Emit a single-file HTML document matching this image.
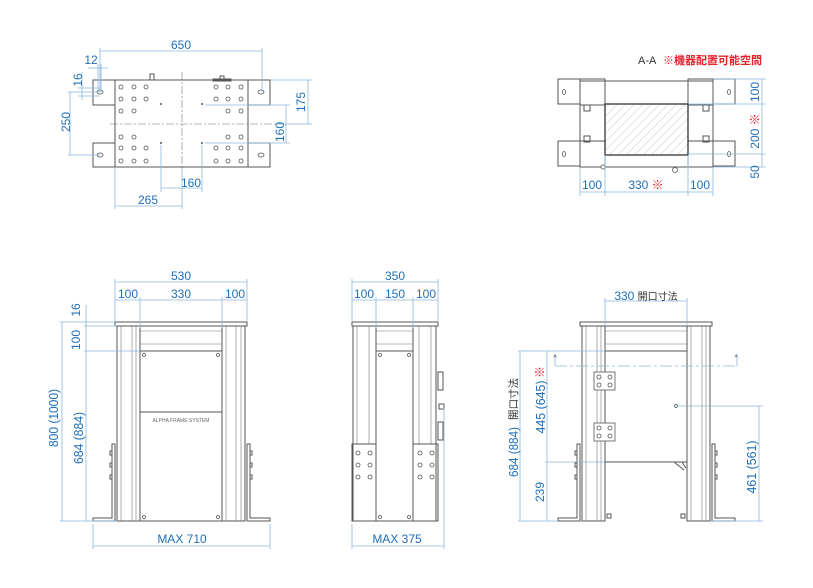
<!DOCTYPE html>
<html><head><meta charset="utf-8"><style>
html,body{margin:0;padding:0;background:#fff;width:813px;height:588px;overflow:hidden}
svg text{font-family:"Liberation Sans Narrow","Liberation Sans","Noto Sans CJK JP",sans-serif;fill:#1f6fb8;font-size:12px}
.d{stroke:#8cb8de;stroke-width:0.8;fill:none}
.g{stroke:#555;stroke-width:1;fill:none}
.gt{stroke:#777;stroke-width:0.6;fill:none}
.h{stroke:#555;stroke-width:0.8;fill:#fff}
.r{fill:#e8202a!important}
.k{fill:#333!important}
.t{font-size:13px!important}
</style></head><body>
<svg width="813" height="588" viewBox="0 0 813 588" xmlns="http://www.w3.org/2000/svg">
<defs>
<pattern id="hat" width="6" height="6" patternUnits="userSpaceOnUse" patternTransform="rotate(45)"><line x1="0" y1="0" x2="0" y2="6" stroke="#aaa" stroke-width="0.6"/></pattern>
</defs>

<!-- ===== TOP-LEFT PLAN ===== -->
<g>
<rect class="g" x="115" y="80" width="133" height="87"/>
<rect class="g" x="93" y="80" width="22" height="25" fill="#fff"/>
<rect class="g" x="93" y="143" width="22" height="24"/>
<rect class="g" x="248" y="80" width="22" height="25"/>
<rect class="g" x="248" y="143" width="22" height="24"/>
<line class="gt" x1="182" y1="72" x2="182" y2="172" stroke-dasharray="8 2 2 2"/>
<line class="gt" x1="110" y1="124" x2="275" y2="124" stroke-dasharray="8 2 2 2"/>
<rect class="g" x="150" y="74" width="4" height="6"/>
<rect class="g" x="213" y="79" width="18" height="2"/><rect class="g" x="220" y="76" width="4" height="4"/>
<g class="h">
<circle cx="121" cy="87" r="2"/><circle cx="134" cy="87" r="2"/><circle cx="146" cy="87" r="2"/>
<circle cx="121" cy="99" r="2"/><circle cx="134" cy="99" r="2"/><circle cx="146" cy="99" r="2"/>
<circle cx="121" cy="111" r="2"/><circle cx="134" cy="111" r="2"/>
<circle cx="216" cy="87" r="2"/><circle cx="228" cy="87" r="2"/><circle cx="241" cy="87" r="2"/>
<circle cx="216" cy="99" r="2"/><circle cx="228" cy="99" r="2"/><circle cx="241" cy="99" r="2"/>
<circle cx="228" cy="111" r="2"/><circle cx="241" cy="111" r="2"/>
<circle cx="121" cy="137" r="2"/><circle cx="134" cy="137" r="2"/>
<circle cx="121" cy="148" r="2"/><circle cx="134" cy="148" r="2"/><circle cx="146" cy="148" r="2"/>
<circle cx="121" cy="161" r="2"/><circle cx="134" cy="161" r="2"/><circle cx="146" cy="161" r="2"/>
<circle cx="228" cy="137" r="2"/><circle cx="241" cy="137" r="2"/>
<circle cx="216" cy="148" r="2"/><circle cx="228" cy="148" r="2"/><circle cx="241" cy="148" r="2"/>
<circle cx="216" cy="161" r="2"/><circle cx="228" cy="161" r="2"/><circle cx="241" cy="161" r="2"/>
<ellipse cx="100" cy="92" rx="3" ry="2"/><ellipse cx="100" cy="155" rx="3" ry="2"/>
<ellipse cx="261" cy="92" rx="3" ry="2"/><ellipse cx="261" cy="155" rx="3" ry="2"/>
</g>
<g fill="#555"><circle cx="161" cy="104" r="1"/><circle cx="202" cy="104" r="1"/><circle cx="161" cy="143" r="1"/><circle cx="202" cy="143" r="1"/></g>
<path class="d" d="M100 51H262M100 48V92M262 48V92"/>
<text x="181" y="49" text-anchor="middle">650</text>
<path class="d" d="M98 64V92M101 64V92M88 68H108"/><text x="91" y="64" text-anchor="middle">12</text>
<path class="d" d="M82 72V100M78 88H100M78 96H100"/>
<text transform="translate(82,80) rotate(-90)" text-anchor="middle">16</text>
<path class="d" d="M70 92V155M68 92H100M68 155H100"/>
<text transform="translate(70,122) rotate(-90)" text-anchor="middle">250</text>
<path class="d" d="M308 80V124M270 80H312M275 124H312"/>
<text transform="translate(305,102) rotate(-90)" text-anchor="middle">175</text>
<path class="d" d="M286 105V143M205 105H290M205 143H290"/>
<text transform="translate(284,132) rotate(-90)" text-anchor="middle">160</text>
<path class="d" d="M161 188H202M161 145V192M202 145V192"/><text x="191" y="187" text-anchor="middle">160</text>
<path class="d" d="M115 206H182M115 168V209M182 168V209"/><text x="148" y="204" text-anchor="middle">265</text>
</g>

<!-- ===== TOP-RIGHT A-A ===== -->
<g>
<text x="638" y="64" class="k" style="font-size:11px">A-A</text>
<text x="663" y="64" class="r" style="font-size:11px;font-weight:bold">※機器配置可能空間</text>
<rect class="g" x="580" y="81" width="133" height="86"/>
<rect class="g" x="558" y="79" width="22" height="25"/>
<rect class="g" x="558" y="141" width="22" height="25"/>
<rect class="g" x="713" y="79" width="22" height="25"/>
<rect class="g" x="713" y="141" width="22" height="25"/>
<rect x="580" y="79" width="25" height="26" fill="url(#hat)" class="g"/>
<rect x="688" y="79" width="25" height="26" fill="url(#hat)" class="g"/>
<rect x="580" y="141" width="25" height="26" fill="url(#hat)" class="g"/>
<rect x="688" y="141" width="25" height="26" fill="url(#hat)" class="g"/>
<rect x="605" y="104" width="83" height="51" fill="url(#hat)" stroke="#333" stroke-width="1.3"/>
<rect class="g" x="584" y="105" width="6" height="6"/><rect class="g" x="703" y="105" width="6" height="6"/>
<rect class="g" x="584" y="136" width="6" height="6"/><rect class="g" x="703" y="136" width="6" height="6"/>
<ellipse class="h" cx="564" cy="92" rx="1.5" ry="2.5"/><ellipse class="h" cx="564" cy="154" rx="1.5" ry="2.5"/>
<ellipse class="h" cx="729" cy="92" rx="1.5" ry="2.5"/><ellipse class="h" cx="729" cy="154" rx="1.5" ry="2.5"/>
<circle class="h" cx="675" cy="170" r="2.5"/><circle class="h" cx="603" cy="167" r="2"/>
<path class="d" d="M713 79H766M688 104H766M688 154H766M713 167H766M762 79V167"/>
<text transform="translate(759,92) rotate(-90)" text-anchor="middle">100</text>
<text transform="translate(759,131) rotate(-90)" text-anchor="middle">200 <tspan class="r">※</tspan></text>
<text transform="translate(759,172) rotate(-90)" text-anchor="middle">50</text>
<path class="d" d="M580 192H713M580 167V196M605 155V196M688 155V196M713 167V196"/>
<text x="592" y="189" text-anchor="middle">100</text>
<text x="646" y="189" text-anchor="middle">330 <tspan class="r">※</tspan></text>
<text x="700" y="189" text-anchor="middle">100</text>
</g>

<!-- ===== FRONT VIEW ===== -->
<g>
<rect class="g" x="115" y="322" width="132" height="4"/>
<rect class="g" x="117" y="326" width="23" height="195"/>
<line class="gt" x1="121" y1="326" x2="121" y2="521"/><line class="gt" x1="132" y1="326" x2="132" y2="521"/><line class="gt" x1="136" y1="326" x2="136" y2="521"/>
<rect class="g" x="222" y="326" width="23" height="195"/>
<line class="gt" x1="226" y1="326" x2="226" y2="521"/><line class="gt" x1="236" y1="326" x2="236" y2="521"/><line class="gt" x1="241" y1="326" x2="241" y2="521"/>
<rect class="g" x="140" y="326" width="82" height="25"/><line class="gt" x1="140" y1="331" x2="222" y2="331"/><line class="gt" x1="140" y1="344" x2="222" y2="344"/>
<rect class="g" x="140" y="351" width="82" height="170"/>
<line class="g" x1="140" y1="412" x2="222" y2="412"/>
<text x="181" y="422" text-anchor="middle" style="font-size:5px;fill:#666">ALPHA FRAME SYSTEM</text>
<g class="h"><circle cx="144" cy="355" r="1.5"/><circle cx="218" cy="355" r="1.5"/><circle cx="144" cy="517" r="1.5"/><circle cx="218" cy="517" r="1.5"/></g>
<path class="g" d="M93 521V518H112V444H115V521ZM270 521V518H250V444H247V521Z"/>
<g class="g"><rect x="110" y="451" width="2" height="4"/><rect x="110" y="463" width="2" height="4"/><rect x="110" y="475" width="2" height="4"/><rect x="250" y="451" width="2" height="4"/><rect x="250" y="463" width="2" height="4"/><rect x="250" y="475" width="2" height="4"/></g>
<path class="d" d="M115 282H247M115 279V322M247 279V322M115 300H247M140 297V328M222 297V328"/>
<text x="181" y="280" text-anchor="middle">530</text>
<text x="128" y="298" text-anchor="middle">100</text><text x="181" y="298" text-anchor="middle">330</text><text x="235" y="298" text-anchor="middle">100</text>
<path class="d" d="M60 322H115M84 326H117M84 351H140M60 521H93M84 521H117M62 322V521M86 305V351M86 351V521"/>
<text transform="translate(80,310) rotate(-90)" text-anchor="middle">16</text>
<text transform="translate(80,340) rotate(-90)" text-anchor="middle">100</text>
<text class="t" transform="translate(58,418) rotate(-90)" text-anchor="middle" textLength="58" lengthAdjust="spacingAndGlyphs">800 (1000)</text>
<text class="t" transform="translate(83,438) rotate(-90)" text-anchor="middle" textLength="52" lengthAdjust="spacingAndGlyphs">684 (884)</text>
<path class="d" d="M93 546H270M93 524V549M270 524V549"/>
<text x="182" y="543" text-anchor="middle">MAX 710</text>
</g>

<!-- ===== SIDE VIEW ===== -->
<g>
<rect class="g" x="352" y="322" width="86" height="4"/>
<rect class="g" x="353" y="326" width="23" height="195"/>
<line class="gt" x1="357" y1="326" x2="357" y2="444"/><line class="gt" x1="369" y1="326" x2="369" y2="444"/>
<rect class="g" x="413" y="326" width="23" height="195"/>
<line class="gt" x1="419" y1="326" x2="419" y2="444"/><line class="gt" x1="431" y1="326" x2="431" y2="444"/>
<rect class="g" x="376" y="326" width="37" height="25"/><line class="gt" x1="376" y1="331" x2="413" y2="331"/><line class="gt" x1="376" y1="344" x2="413" y2="344"/>
<rect class="g" x="376" y="351" width="37" height="170"/>
<g class="h"><circle cx="380" cy="355" r="1.5"/><circle cx="409" cy="355" r="1.5"/><circle cx="380" cy="517" r="1.5"/><circle cx="409" cy="517" r="1.5"/></g>
<rect class="g" x="352" y="444" width="24" height="77"/><rect class="g" x="413" y="444" width="25" height="77"/>
<g class="h">
<circle cx="358" cy="453" r="2"/><circle cx="370" cy="453" r="2"/><circle cx="358" cy="465" r="2"/><circle cx="370" cy="465" r="2"/><circle cx="358" cy="477" r="2"/><circle cx="370" cy="477" r="2"/>
<circle cx="420" cy="453" r="2"/><circle cx="432" cy="453" r="2"/><circle cx="420" cy="465" r="2"/><circle cx="432" cy="465" r="2"/><circle cx="420" cy="477" r="2"/><circle cx="432" cy="477" r="2"/>
</g>
<rect class="g" x="438" y="372" width="5" height="18"/><rect class="g" x="438" y="422" width="5" height="18"/>
<rect class="g" x="439" y="404" width="5" height="5"/>
<path class="d" d="M352 282H438M352 279V322M438 279V322M352 300H438M376 297V328M413 297V328"/>
<text x="395" y="280" text-anchor="middle">350</text>
<text x="364" y="298" text-anchor="middle">100</text><text x="395" y="298" text-anchor="middle">150</text><text x="426" y="298" text-anchor="middle">100</text>
<path class="d" d="M352 546H444M352 524V549M444 408V549"/>
<text x="397" y="543" text-anchor="middle">MAX 375</text>
</g>

<!-- ===== RIGHT VIEW ===== -->
<g>
<rect class="g" x="580" y="322" width="132" height="4"/>
<rect class="g" x="582" y="326" width="23" height="195"/>
<line class="gt" x1="586" y1="326" x2="586" y2="521"/><line class="gt" x1="597" y1="326" x2="597" y2="521"/><line class="gt" x1="601" y1="326" x2="601" y2="521"/>
<rect class="g" x="687" y="326" width="23" height="195"/>
<line class="gt" x1="691" y1="326" x2="691" y2="521"/><line class="gt" x1="702" y1="326" x2="702" y2="521"/><line class="gt" x1="706" y1="326" x2="706" y2="521"/>
<rect class="g" x="605" y="326" width="82" height="25"/><line class="gt" x1="605" y1="331" x2="687" y2="331"/><line class="gt" x1="605" y1="344" x2="687" y2="344"/>
<rect class="g" x="605" y="351" width="82" height="111"/>
<path class="g" d="M674 462L684 470M682 462L686 468"/>
<circle class="h" cx="676" cy="406" r="1.5"/>
<path class="g" d="M558 521V518H577V444H580V521ZM735 521V518H715V444H712V521Z"/>
<g class="g"><rect x="575" y="451" width="2" height="4"/><rect x="575" y="463" width="2" height="4"/><rect x="575" y="475" width="2" height="4"/><rect x="715" y="451" width="2" height="4"/><rect x="715" y="463" width="2" height="4"/><rect x="715" y="475" width="2" height="4"/></g>
<rect class="g" x="607" y="514" width="4" height="4"/><rect class="g" x="681" y="514" width="4" height="4"/>
<g>
<rect class="h" x="594" y="372" width="21" height="18"/><rect class="h" x="594" y="423" width="21" height="18"/>
<circle class="h" cx="599" cy="377" r="2"/><circle class="h" cx="610" cy="377" r="2"/><circle class="h" cx="599" cy="385" r="2"/><circle class="h" cx="610" cy="385" r="2"/>
<circle class="h" cx="599" cy="428" r="2"/><circle class="h" cx="610" cy="428" r="2"/><circle class="h" cx="599" cy="436" r="2"/><circle class="h" cx="610" cy="436" r="2"/>
</g>
<path class="d" d="M555 366H737" stroke-dasharray="12 3 3 3"/>
<path class="d" d="M555 366V354M737 366V354"/>
<text x="555" y="360" text-anchor="middle" style="font-size:7px" class="k">^</text>
<text x="736" y="360" text-anchor="middle" style="font-size:7px" class="k">^</text>
<path class="d" d="M605 301H687M605 298V326M687 298V326"/>
<text x="646" y="300" text-anchor="middle">330 <tspan class="k" style="font-size:10px">開口寸法</tspan></text>
<path class="d" d="M518 351H605M545 462H605M518 521H558M520 351V521M547 351V521M676 406H763M712 521H763M759 406V521"/>
<text class="t" transform="translate(518,452) rotate(-90)" text-anchor="middle" textLength="50" lengthAdjust="spacingAndGlyphs">684 (884)</text>
<text class="k" transform="translate(517,399) rotate(-90)" text-anchor="middle" style="font-size:10.5px">開口寸法</text>
<text transform="translate(544,372) rotate(-90)" text-anchor="middle" class="r">※</text>
<text class="t" transform="translate(545,407) rotate(-90)" text-anchor="middle" textLength="53" lengthAdjust="spacingAndGlyphs">445 (645)</text>
<text transform="translate(544,492) rotate(-90)" text-anchor="middle">239</text>
<text class="t" transform="translate(756,467) rotate(-90)" text-anchor="middle" textLength="53" lengthAdjust="spacingAndGlyphs">461 (561)</text>
</g>
</svg>
</body></html>
